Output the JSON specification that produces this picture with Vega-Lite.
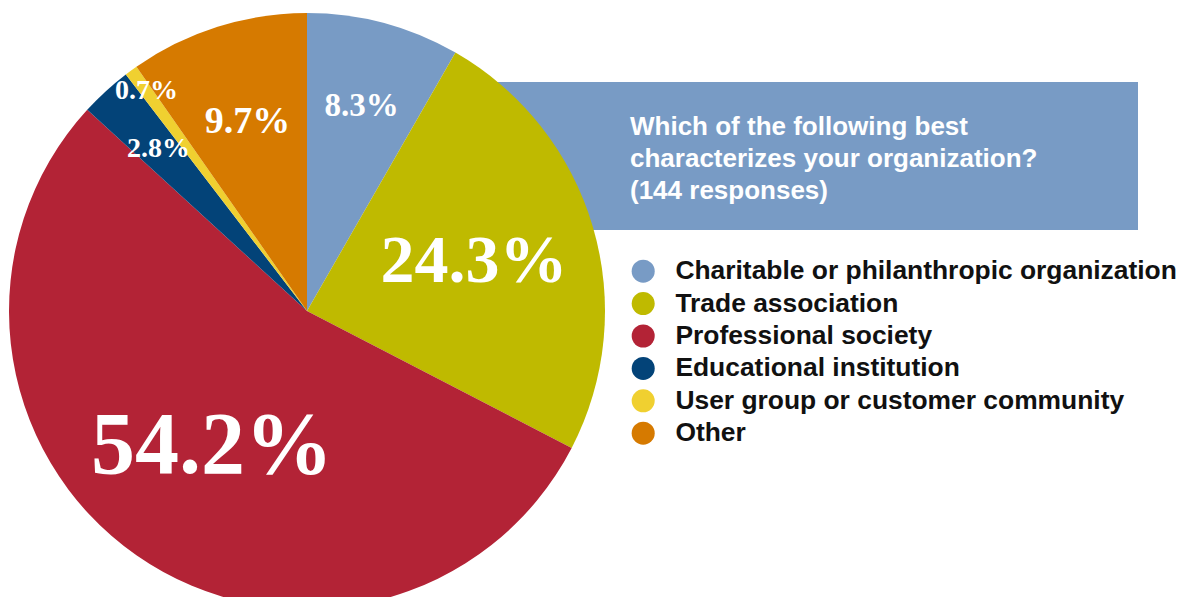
{
  "$schema": "https://vega.github.io/schema/vega-lite/v6.json",
  "width": 1191,
  "height": 597,
  "padding": 0,
  "autosize": "none",
  "background": "white",
  "config": {"view": {"stroke": null}},
  "data": {
    "values": [
      {"category": "Charitable or philanthropic organization", "percent": 8.3, "label": "8.3%", "rank": 1},
      {"category": "Trade association", "percent": 24.3, "label": "24.3%", "rank": 2},
      {"category": "Professional society", "percent": 54.2, "label": "54.2%", "rank": 3},
      {"category": "Educational institution", "percent": 2.8, "label": "2.8%", "rank": 4},
      {"category": "User group or customer community", "percent": 0.7, "label": "0.7%", "rank": 5},
      {"category": "Other", "percent": 9.7, "label": "9.7%", "rank": 6}
    ]
  },
  "layer": [
    {
      "data": {"values": [{"q": "box"}]},
      "mark": {"type": "rect", "x": 490, "x2": 1138, "y": 82, "y2": 230, "fill": "#789bc5"},
      "encoding": {}
    },
    {
      "data": {"values": [{"q": "title"}]},
      "mark": {"type": "text", "x": 630, "y": 135, "align": "left", "baseline": "alphabetic", "font": "Liberation Sans", "fontWeight": "bold", "fontSize": 26, "lineHeight": 32, "fill": "white"},
      "encoding": {"text": {"value": ["Which of the following best", "characterizes your organization?", "(144 responses)"]}}
    },
    {
      "mark": {"type": "arc", "x": 307, "y": 311, "outerRadius": 298},
      "encoding": {
        "theta": {"field": "percent", "type": "quantitative", "stack": true},
        "order": {"field": "rank", "type": "quantitative"},
        "color": {
          "field": "category",
          "type": "nominal",
          "scale": {
            "domain": ["Charitable or philanthropic organization", "Trade association", "Professional society", "Educational institution", "User group or customer community", "Other"],
            "range": ["#789bc5", "#bfba00", "#b32336", "#034378", "#f0d030", "#d67a00"]
          },
          "legend": {
            "orient": "none", "legendX": 630, "legendY": 258, "title": null, "padding": 0,
            "symbolType": "circle", "symbolSize": 530, "symbolStrokeWidth": 0, "symbolOpacity": 1,
            "labelFont": "Liberation Sans", "labelFontWeight": "bold", "labelFontSize": 26.4, "labelColor": "#111111",
            "labelOffset": 19, "rowPadding": 5.4, "labelLimit": 700
          }
        }
      }
    },
    {
      "mark": {"type": "text", "x": 307, "y": 311, "align": "center", "baseline": "middle", "font": "Liberation Serif", "fontWeight": "bold", "fill": "white"},
      "encoding": {
        "theta": {"field": "percent", "type": "quantitative", "stack": true},
        "order": {"field": "rank", "type": "quantitative"},
        "radius": {"field": "percent", "type": "quantitative", "scale": {"type": "linear", "zero": false, "domain": [0.7, 2.8, 8.3, 9.7, 24.3, 54.2], "range": [272, 220, 212, 198, 174, 166]}},
        "size": {"field": "percent", "type": "quantitative", "scale": {"type": "linear", "zero": false, "domain": [0.7, 2.8, 8.3, 9.7, 24.3, 54.2], "range": [28, 28, 33, 38, 68, 88]}, "legend": null},
        "text": {"field": "label"}
      }
    }
  ]
}
